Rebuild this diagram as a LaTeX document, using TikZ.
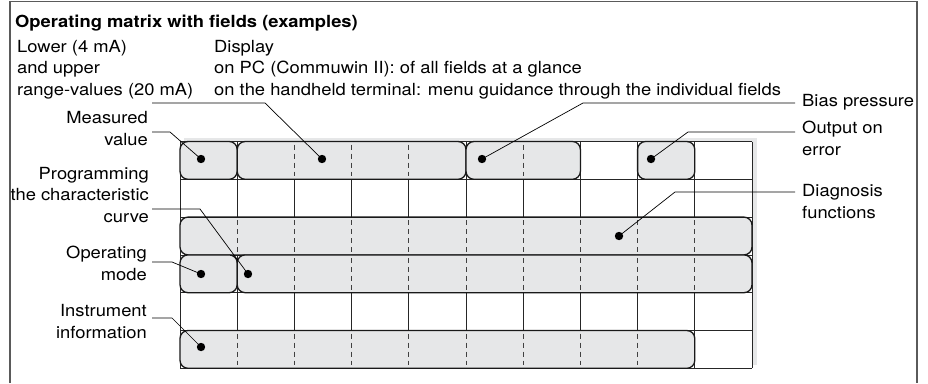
\documentclass[tikz,border=0pt]{standalone}
\usepackage{fontspec}
\setmainfont{TeX Gyre Heros}[FakeStretch=1.1]
\definecolor{fieldgray}{RGB}{230,231,232}
\definecolor{framegray}{RGB}{90,90,90}
\begin{document}
\begin{tikzpicture}[x=1pt,y=-1pt]
    \newcommand{\gridx}{180}   % left edge of the matrix
    \newcommand{\gridy}{141.5} % top edge of the matrix
    \newcommand{\colw}{57.2}   % width of one field
    \newcommand{\rowh}{37.8}   % height of one row

    % styles of labels, fields and leaders
    \tikzset{
        lbl/.style={font=\fontsize{16.7}{21.5}\selectfont, inner sep=0pt},
        field/.style={draw=black!90, line width=1.3pt, fill=fieldgray, rounded corners=8pt},
        gridline/.style={draw=black!85, line width=0.8pt},
        sepline/.style={draw=black!75, line width=0.8pt, dash pattern=on 5pt off 4pt},
        dot/.style={circle, fill=black, inner sep=0pt, minimum size=8.4pt},
        lead/.style={line width=0.7pt}
    }
    \useasboundingbox (0,0) rectangle (928,383);

    % frame, open at the bottom
    \draw[framegray, line width=1.3pt] (10,383) -- (10,1.5) -- (917,1.5) -- (917,383);

    % shadow and white matrix
    \fill[fieldgray] (184,138) rectangle (757,365);
    \fill[white] (\gridx,\gridy) rectangle (\gridx+10*\colw,\gridy+6*\rowh);
    \foreach \k in {0,...,10}
        \draw[gridline] (\gridx+\k*\colw,\gridy) -- (\gridx+\k*\colw,\gridy+6*\rowh);
    \foreach \r in {0,...,6}
        \draw[gridline] (\gridx,\gridy+\r*\rowh) -- (\gridx+10*\colw,\gridy+\r*\rowh);

    % fields
    \draw[field] (\gridx,\gridy) rectangle (\gridx+\colw,\gridy+\rowh);
    \draw[field] (\gridx+\colw,\gridy) rectangle (\gridx+5*\colw,\gridy+\rowh);
    \draw[field] (\gridx+5*\colw,\gridy) rectangle (\gridx+7*\colw,\gridy+\rowh);
    \draw[field] (\gridx+8*\colw,\gridy) rectangle (\gridx+9*\colw,\gridy+\rowh);
    \draw[field] (\gridx,\gridy+2*\rowh) rectangle (\gridx+10*\colw,\gridy+3*\rowh);
    \draw[field] (\gridx,\gridy+3*\rowh) rectangle (\gridx+\colw,\gridy+4*\rowh);
    \draw[field] (\gridx+\colw,\gridy+3*\rowh) rectangle (\gridx+10*\colw,\gridy+4*\rowh);
    \draw[field] (\gridx,\gridy+5*\rowh) rectangle (\gridx+9*\colw,\gridy+6*\rowh);

    % dashed column lines inside the fields
    \foreach \k in {2,3,4,6}
        \draw[sepline] (\gridx+\k*\colw,\gridy+3) -- (\gridx+\k*\colw,\gridy+\rowh-3);
    \foreach \k in {1,...,9}
        \draw[sepline] (\gridx+\k*\colw,\gridy+2*\rowh+3) -- (\gridx+\k*\colw,\gridy+3*\rowh-3);
    \foreach \k in {2,...,9}
        \draw[sepline] (\gridx+\k*\colw,\gridy+3*\rowh+3) -- (\gridx+\k*\colw,\gridy+4*\rowh-3);
    \foreach \k in {1,...,8}
        \draw[sepline] (\gridx+\k*\colw,\gridy+5*\rowh+3) -- (\gridx+\k*\colw,\gridy+6*\rowh-3);

    % dots
    \node[dot] (dmeas) at (201,159) {};
    \node[dot] (ddisp) at (322,159) {};
    \node[dot] (dbias) at (482,159) {};
    \node[dot] (derr) at (651,159) {};
    \node[dot] (ddiag) at (619,236) {};
    \node[dot] (dmode) at (201,274) {};
    \node[dot] (dcurve) at (248,274) {};
    \node[dot] (dinst) at (201,347) {};

    % labels (base = baseline of the last line)
    \node[lbl, anchor=base west] (title) at (15,27) {\bfseries Operating matrix with fields (examples)};
    \node[lbl, anchor=base west, align=left] (range) at (17,95) {Lower (4 mA)\\and upper\\range-values (20 mA)};
    \node[lbl, anchor=base west, align=left] (disp) at (214,95) {Display\\on PC (Commuwin II): of all fields at a glance\\on the handheld terminal: menu guidance through the individual fields};
    \node[lbl, anchor=base east, align=right] (meas) at (148,145) {Measured\\value};
    \node[lbl, anchor=base east, align=right] (curve) at (149,222) {Programming\\the characteristic\\curve};
    \node[lbl, anchor=base east, align=right] (mode) at (147,280) {Operating\\mode};
    \node[lbl, anchor=base east, align=right] (inst) at (147,338) {Instrument\\information};
    \node[lbl, anchor=base west] (bias) at (802,106) {Bias pressure};
    \node[lbl, anchor=base west, align=left] (err) at (802,155) {Output on\\error};
    \node[lbl, anchor=base west, align=left] (diag) at (802,218) {Diagnosis\\functions};

    % leaders
    \coordinate (lmeas) at (152,132);   \coordinate (kmeas) at (170,132);
    \coordinate (ldisp) at (152,103);   \coordinate (kdisp) at (265,103);
    \coordinate (lcurve) at (152,209);  \coordinate (kcurve) at (200,209);
    \coordinate (lmode) at (152,262);   \coordinate (kmode) at (172,262);
    \coordinate (linst) at (152,318);   \coordinate (kinst) at (172,318);
    \coordinate (lbias) at (795,103);   \coordinate (kbias) at (583,103);
    \coordinate (lerr) at (795,132);    \coordinate (kerr) at (688,132);
    \coordinate (ldiag) at (795,192);   \coordinate (kdiag) at (675,192);
    \draw[lead] (lmeas) -- (kmeas) -- (dmeas.center);
    \draw[lead] (ldisp) -- (kdisp) -- (ddisp.center);
    \draw[lead] (lcurve) -- (kcurve) -- (dcurve.center);
    \draw[lead] (lmode) -- (kmode) -- (dmode.center);
    \draw[lead] (linst) -- (kinst) -- (dinst.center);
    \draw[lead] (lbias) -- (kbias) -- (dbias.center);
    \draw[lead] (lerr) -- (kerr) -- (derr.center);
    \draw[lead] (ldiag) -- (kdiag) -- (ddiag.center);
\end{tikzpicture}
\end{document}
